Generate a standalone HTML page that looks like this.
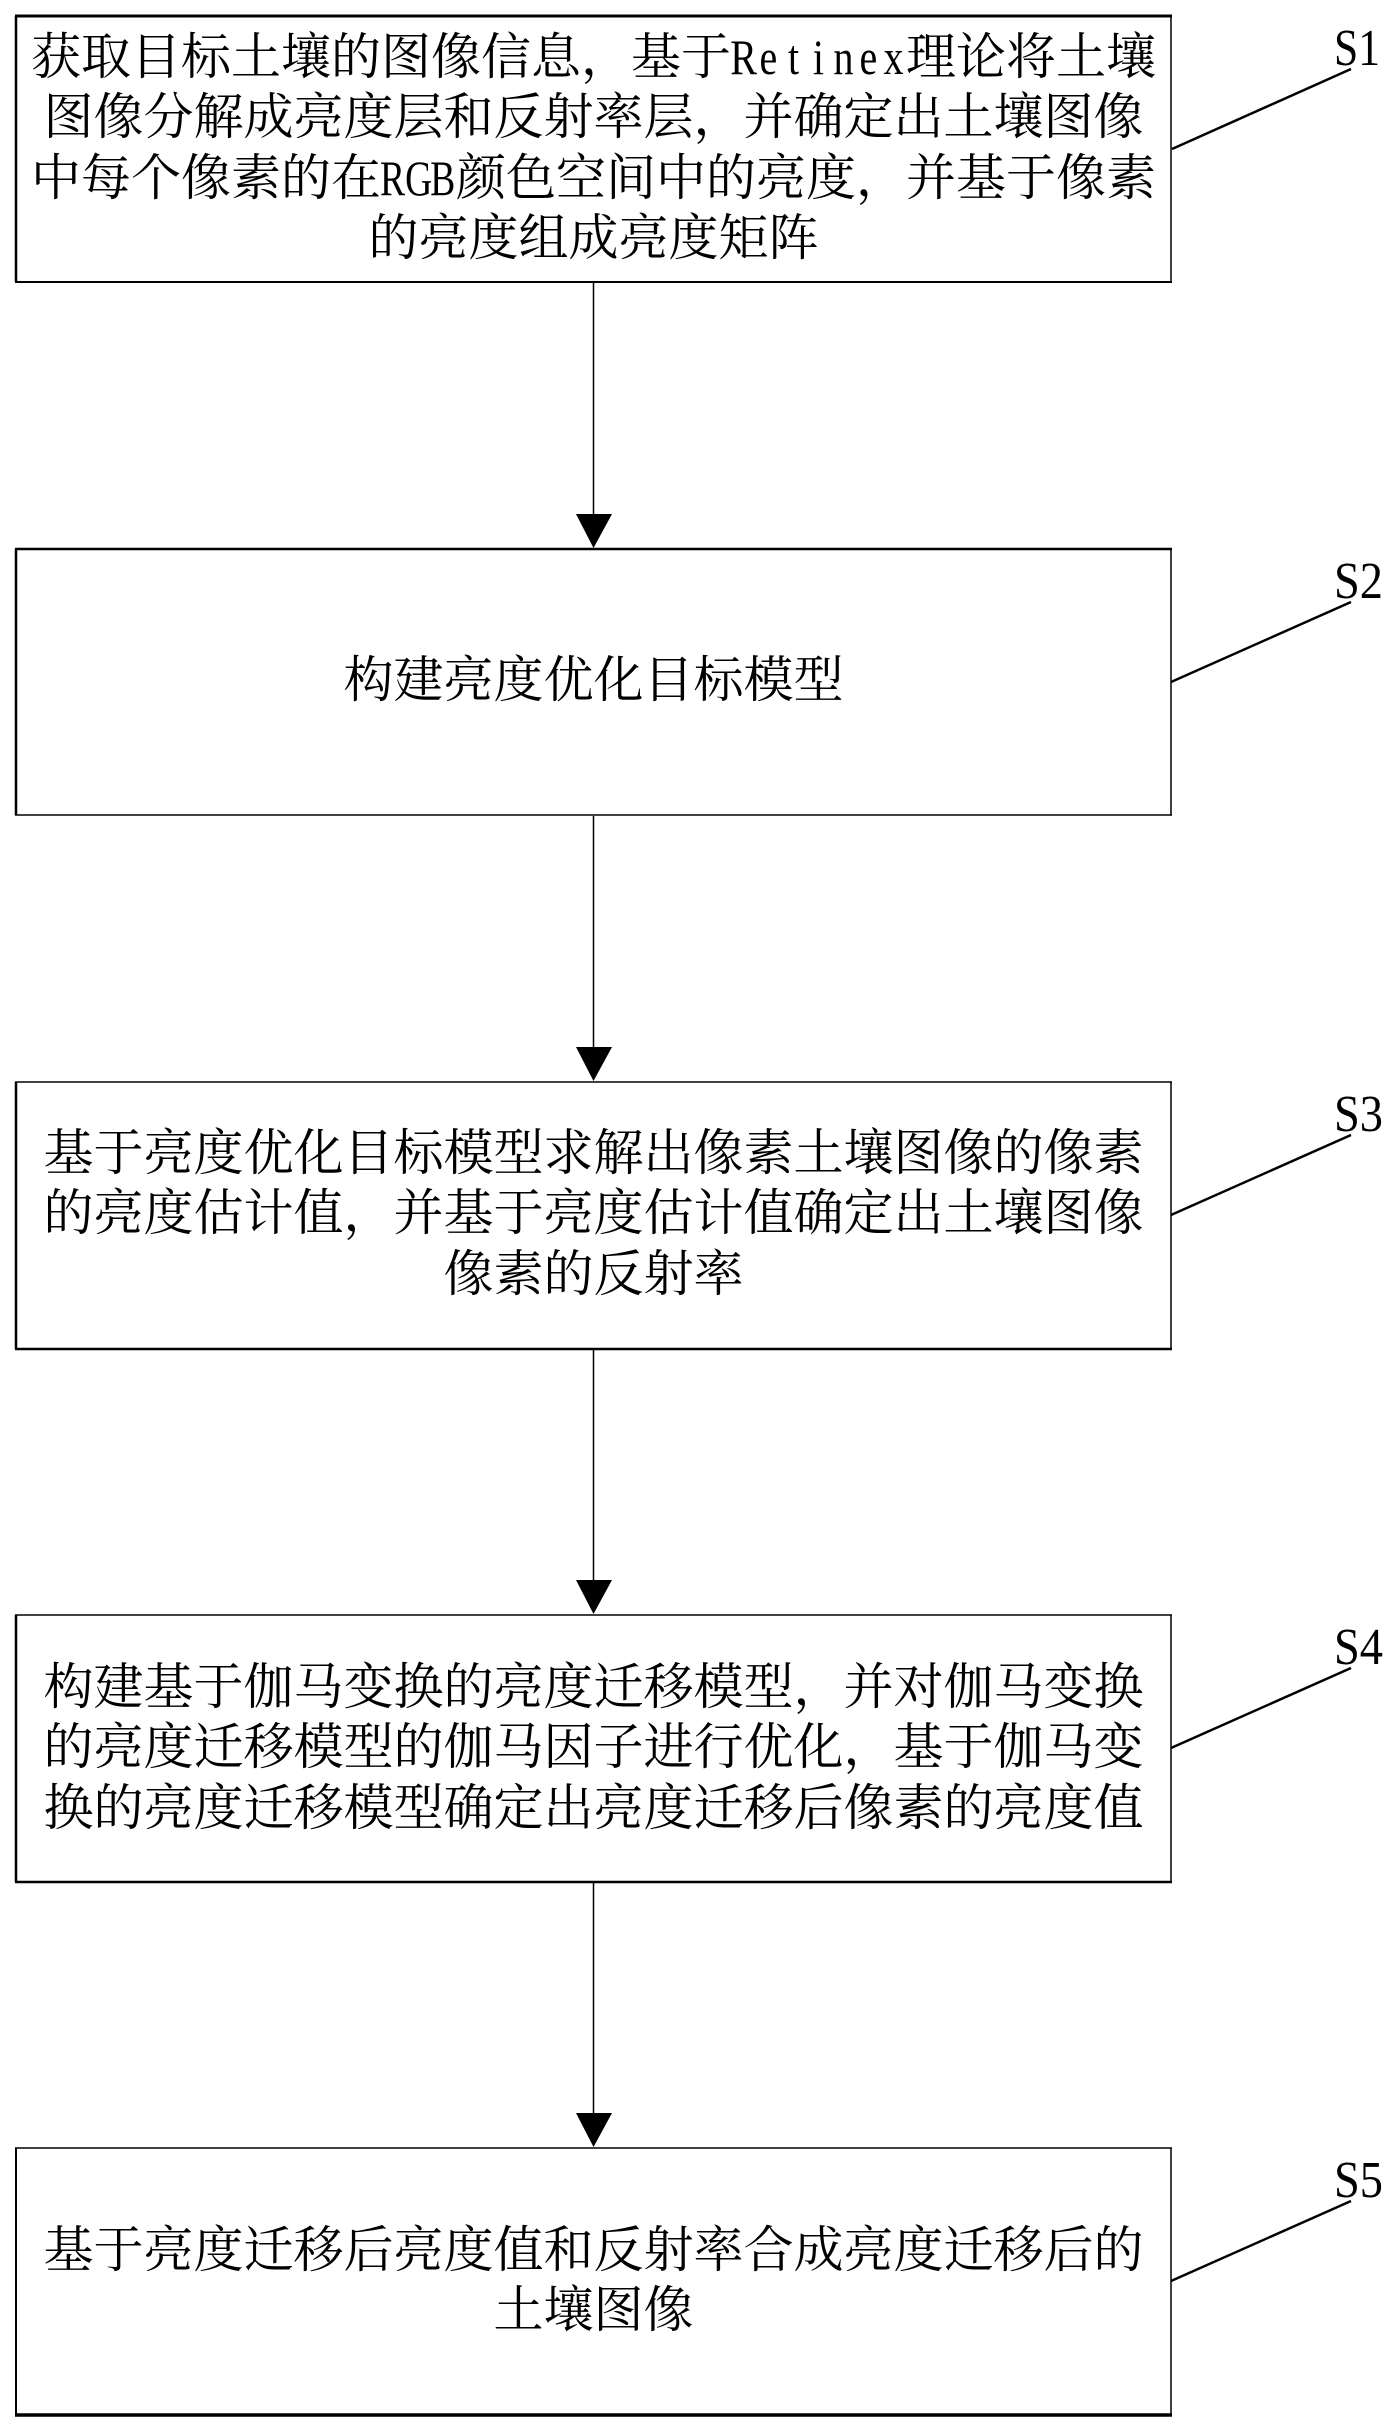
<!DOCTYPE html>
<html lang="zh">
<head>
<meta charset="utf-8">
<title>亮度迁移流程图</title>
<style>
html,body{margin:0;padding:0;background:#fff;}
svg{display:block;}
.c{font-family:"Liberation Serif","Noto Serif CJK SC",serif;font-size:50px;fill:#000;}
.m{text-anchor:middle;}
.l{font-family:"Liberation Serif","Noto Serif CJK SC",serif;font-size:50px;fill:#000;}
.s{font-family:"Liberation Serif",serif;font-size:52px;fill:#000;}
.b{stroke:#000;fill:none;}
</style>
</head>
<body>
<svg xmlns="http://www.w3.org/2000/svg" width="1395" height="2427" viewBox="0 0 1395 2427">
<rect width="1395" height="2427" fill="#fff"/>

<!-- Boxes -->
<g class="b">
  <path d="M16 16V282" stroke-width="2.5"/><path d="M1171 16V282" stroke-width="1.5"/>
  <path d="M15 16H1172" stroke-width="3"/><path d="M15 282H1172" stroke-width="2"/>

  <path d="M16 549V815" stroke-width="2.5"/><path d="M1171 549V815" stroke-width="1.5"/>
  <path d="M15 549H1172" stroke-width="2.5"/><path d="M15 815H1172" stroke-width="1.5"/>

  <path d="M16 1082V1349" stroke-width="2.5"/><path d="M1171 1082V1349" stroke-width="1.5"/>
  <path d="M15 1082H1172" stroke-width="1.5"/><path d="M15 1349H1172" stroke-width="2.5"/>

  <path d="M16 1615V1882" stroke-width="2.5"/><path d="M1171 1615V1882" stroke-width="1.5"/>
  <path d="M15 1615H1172" stroke-width="1.5"/><path d="M15 1882H1172" stroke-width="2.5"/>

  <path d="M16 2148V2415" stroke-width="2"/><path d="M1171 2148V2415" stroke-width="1.5"/>
  <path d="M15 2148H1172" stroke-width="1.5"/><path d="M15 2415H1172" stroke-width="3.5"/>
</g>

<!-- Arrows -->
<g class="b" stroke-width="1.5">
  <path d="M593.5 283V516"/>
  <path d="M593.5 816V1049"/>
  <path d="M593.5 1350V1582"/>
  <path d="M593.5 1883V2115"/>
</g>
<g fill="#000">
  <polygon points="576,514 612,514 593.5,548"/>
  <polygon points="576,1047 612,1047 593.5,1081"/>
  <polygon points="576,1580 612,1580 593.5,1614"/>
  <polygon points="576,2113 612,2113 593.5,2147"/>
</g>

<!-- Leader lines -->
<g class="b" stroke-width="2.5">
  <path d="M1172 149L1351 69"/>
  <path d="M1171 682L1351 602"/>
  <path d="M1171 1215L1351 1135"/>
  <path d="M1171 1748L1351 1668"/>
  <path d="M1171 2281L1351 2201"/>
</g>

<!-- Step labels -->
<text class="s" x="1334" y="65" textLength="46" lengthAdjust="spacingAndGlyphs">S1</text>
<text class="s" x="1334" y="598" textLength="49" lengthAdjust="spacingAndGlyphs">S2</text>
<text class="s" x="1334" y="1131" textLength="49" lengthAdjust="spacingAndGlyphs">S3</text>
<text class="s" x="1334" y="1664" textLength="49" lengthAdjust="spacingAndGlyphs">S4</text>
<text class="s" x="1334" y="2197" textLength="49" lengthAdjust="spacingAndGlyphs">S5</text>

<!-- Box 1 -->
<text class="c" x="31" y="74">获取目标土壤的图像信息，基于</text>
<text class="l" transform="translate(731,74) scale(.8,1)" x="-1 35.7 71.2 102.4 128.1 160.7 190.6" y="0">Retinex</text>
<text class="c" x="906" y="74">理论将土壤</text>
<text class="c m" x="593.5" y="134">图像分解成亮度层和反射率层，并确定出土壤图像</text>
<text class="c" x="31" y="195">中每个像素的在</text>
<text class="l" transform="translate(380,195) scale(.75,1)" x="0 33.5 67" y="0">RGB</text>
<text class="c" x="456" y="195">颜色空间中的亮度，并基于像素</text>
<text class="c m" x="593.5" y="255">的亮度组成亮度矩阵</text>

<!-- Box 2 -->
<text class="c m" x="593.5" y="697">构建亮度优化目标模型</text>

<!-- Box 3 -->
<text class="c m" x="593.5" y="1170">基于亮度优化目标模型求解出像素土壤图像的像素</text>
<text class="c m" x="593.5" y="1230">的亮度估计值，并基于亮度估计值确定出土壤图像</text>
<text class="c m" x="593.5" y="1291">像素的反射率</text>

<!-- Box 4 -->
<text class="c m" x="593.5" y="1704">构建基于伽马变换的亮度迁移模型，并对伽马变换</text>
<text class="c m" x="593.5" y="1764">的亮度迁移模型的伽马因子进行优化，基于伽马变</text>
<text class="c m" x="593.5" y="1825">换的亮度迁移模型确定出亮度迁移后像素的亮度值</text>

<!-- Box 5 -->
<text class="c m" x="593.5" y="2267">基于亮度迁移后亮度值和反射率合成亮度迁移后的</text>
<text class="c m" x="593.5" y="2327">土壤图像</text>
</svg>
</body>
</html>
